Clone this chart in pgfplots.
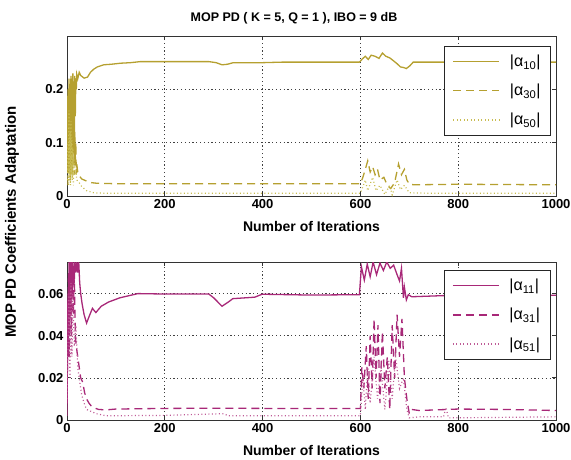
\documentclass[border=0pt]{standalone}
\usepackage{pgfplots}
\pgfplotsset{compat=1.18}
\usepackage{fontspec}
\setmainfont{Liberation Sans}
\definecolor{topc}{RGB}{181,160,48}
\definecolor{topd}{RGB}{200,188,80}
\definecolor{botc}{RGB}{168,40,120}
\definecolor{botd}{RGB}{190,90,150}
\pgfplotsset{
  myaxis/.style={
    scale only axis, width=489pt,
    xmin=0, xmax=1000,
    xtick={0,200,400,600,800,1000},
    grid=major,
    major grid style={dash pattern=on 1.2pt off 2.6pt, line width=0.7pt, black!75},
    axis line style={line width=1pt, black!80},
    tick align=inside, tick style={black!80, line width=0.8pt},
    major tick length=4pt,
    /pgf/number format/assume math mode=true,
    /pgf/number format/set thousands separator={},
    ticklabel style={font=\bfseries\fontsize{13}{13}\selectfont},
    xlabel={Number of Iterations},
    xlabel style={font=\bfseries\fontsize{14}{14}\selectfont, yshift=-6pt},
    scaled y ticks=false,
    yticklabel style={/pgf/number format/fixed, /pgf/number format/precision=2},
    legend cell align=left,
    legend image code/.code={\draw[line width=1.3pt, ##1] (0pt,0pt) -- (46pt,0pt);},
    legend style={font=\fontsize{16}{18}\selectfont, anchor=north east,
      draw=black!85, fill=white, inner xsep=8pt, inner ysep=7pt,
      row sep=12pt, /tikz/every odd column/.append style={column sep=8pt}},
  }
}
\begin{document}
\begin{tikzpicture}
\useasboundingbox (0,0) rectangle (571pt,-460pt);
\node[font=\bfseries\fontsize{12.5}{13}\selectfont] at (294pt,-18pt) {MOP PD ( K = 5, Q = 1 ), IBO = 9 dB};
\node[font=\bfseries\fontsize{15}{15}\selectfont, rotate=90] at (12pt,-222pt) {MOP PD Coefficients Adaptation};
\begin{axis}[myaxis, at={(67pt,-196pt)}, anchor=south west, height=160pt,
  ymin=0, ymax=0.3, ytick={0,0.1,0.2},
  legend style={at={(0.989,0.9375)}}]
\addplot[topc, line width=1.3pt] coordinates {
(0,0.05)(2,0.20)(3,0.06)(4,0.22)(5,0.08)(6,0.21)(7,0.03)(8,0.225)(9,0.10)(10,0.22)(11,0.05)(12,0.23)(13,0.12)(14,0.215)(15,0.06)(16,0.225)(17,0.15)(18,0.22)(19,0.20)(20,0.228)(22,0.22)(25,0.232)(28,0.226)(35,0.221)(42,0.223)(48,0.232)(55,0.238)(62,0.242)(75,0.246)(90,0.247)(110,0.249)(130,0.250)(150,0.252)(200,0.252)(290,0.252)(305,0.250)(317,0.246)(328,0.247)(340,0.250)(400,0.250)(440,0.251)(480,0.251)(520,0.251)(598,0.251)(604,0.257)(610,0.262)(616,0.256)(622,0.264)(630,0.262)(638,0.258)(645,0.268)(652,0.262)(660,0.259)(667,0.254)(675,0.248)(682,0.242)(688,0.241)(694,0.239)(701,0.244)(708,0.251)(750,0.251)(850,0.251)(1000,0.251)};
\addplot[topc, line width=1.3pt, dash pattern=on 8pt off 5pt] coordinates {
(0,0.02)(2,0.15)(3,0.04)(4,0.18)(5,0.05)(6,0.20)(7,0.03)(8,0.17)(9,0.06)(10,0.21)(11,0.04)(12,0.19)(13,0.08)(14,0.16)(15,0.04)(16,0.12)(17,0.06)(18,0.10)(19,0.04)(20,0.06)(22,0.045)(25,0.038)(30,0.032)(40,0.028)(50,0.025)(60,0.024)(100,0.023)(300,0.023)(500,0.023)(600,0.023)(605,0.035)(610,0.05)(615,0.066)(620,0.045)(625,0.055)(630,0.04)(635,0.05)(640,0.03)(648,0.035)(655,0.02)(662,0.014)(670,0.025)(678,0.06)(684,0.04)(690,0.05)(695,0.03)(700,0.022)(710,0.021)(800,0.022)(1000,0.021)};
\addplot[topd, line width=1.2pt, dash pattern=on 1pt off 2.5pt] coordinates {
(0,0.03)(2,0.10)(3,0.02)(4,0.16)(5,0.03)(6,0.12)(7,0.02)(8,0.14)(9,0.04)(10,0.11)(11,0.03)(12,0.09)(13,0.02)(14,0.07)(16,0.04)(18,0.05)(20,0.03)(25,0.025)(30,0.018)(40,0.01)(55,0.006)(80,0.005)(300,0.005)(600,0.005)(610,0.03)(615,0.01)(625,0.035)(632,0.01)(640,0.02)(650,0.003)(660,0.02)(665,0.002)(675,0.03)(682,0.012)(690,0.02)(700,0.006)(750,0.005)(1000,0.005)};
\legend{|α\textsubscript{10}|, |α\textsubscript{30}|, |α\textsubscript{50}|}
\end{axis}
\begin{axis}[myaxis, at={(67pt,-420pt)}, anchor=south west, height=158pt,
  ymin=0, ymax=0.075, ytick={0,0.02,0.04,0.06},
  legend style={at={(0.988,0.949)}}]
\addplot[botc, line width=1.3pt] coordinates {
(0,0.002)(2,0.06)(3,0.03)(4,0.075)(5,0.04)(6,0.075)(8,0.05)(9,0.075)(11,0.06)(12,0.075)(14,0.065)(16,0.075)(18,0.07)(20,0.075)(22,0.07)(24,0.075)(26,0.065)(28,0.06)(31,0.055)(35,0.05)(40,0.046)(45,0.049)(52,0.053)(59,0.051)(70,0.054)(85,0.056)(108,0.058)(145,0.060)(200,0.0598)(290,0.0598)(300,0.058)(317,0.054)(330,0.056)(339,0.0576)(384,0.0583)(399,0.0597)(450,0.0595)(500,0.0593)(598,0.0595)(602,0.0728)(608,0.0664)(614,0.074)(620,0.068)(626,0.075)(633,0.069)(640,0.0745)(647,0.071)(654,0.075)(661,0.072)(668,0.0735)(675,0.069)(680,0.066)(684,0.072)(688,0.058)(690,0.063)(694,0.057)(698,0.0595)(705,0.0585)(800,0.0593)(900,0.0592)(1000,0.0592)};
\addplot[botc, line width=1.3pt, dash pattern=on 8pt off 5pt] coordinates {
(0,0.01)(3,0.07)(5,0.03)(7,0.075)(9,0.04)(11,0.075)(13,0.05)(15,0.07)(17,0.04)(19,0.035)(22,0.03)(25,0.025)(28,0.02)(32,0.018)(36,0.013)(40,0.01)(45,0.008)(50,0.0065)(55,0.0058)(65,0.005)(80,0.0048)(100,0.0052)(200,0.0055)(300,0.0056)(400,0.0055)(600,0.0055)(603,0.025)(607,0.015)(612,0.035)(616,0.01)(620,0.04)(624,0.015)(628,0.048)(632,0.02)(636,0.045)(640,0.008)(645,0.042)(650,0.015)(655,0.03)(660,0.005)(665,0.045)(670,0.02)(675,0.05)(680,0.03)(685,0.048)(690,0.02)(695,0.01)(700,0.003)(705,0.005)(720,0.0045)(800,0.0052)(900,0.005)(1000,0.0045)};
\addplot[botd, line width=1.2pt, dash pattern=on 1pt off 2.5pt] coordinates {
(0,0.01)(4,0.06)(6,0.02)(8,0.065)(10,0.03)(12,0.06)(15,0.035)(18,0.045)(22,0.025)(26,0.018)(30,0.012)(35,0.008)(40,0.005)(50,0.004)(60,0.003)(80,0.002)(200,0.0022)(320,0.003)(330,0.002)(600,0.002)(605,0.02)(610,0.005)(615,0.025)(620,0.008)(628,0.03)(635,0.01)(642,0.025)(650,0.005)(658,0.028)(665,0.01)(672,0.03)(680,0.015)(688,0.02)(695,0.005)(700,0.001)(720,0.0015)(770,0.0015)(775,0.006)(780,0.001)(1000,0.0015)};
\legend{|α\textsubscript{11}|, |α\textsubscript{31}|, |α\textsubscript{51}|}
\end{axis}
\end{tikzpicture}
\end{document}
